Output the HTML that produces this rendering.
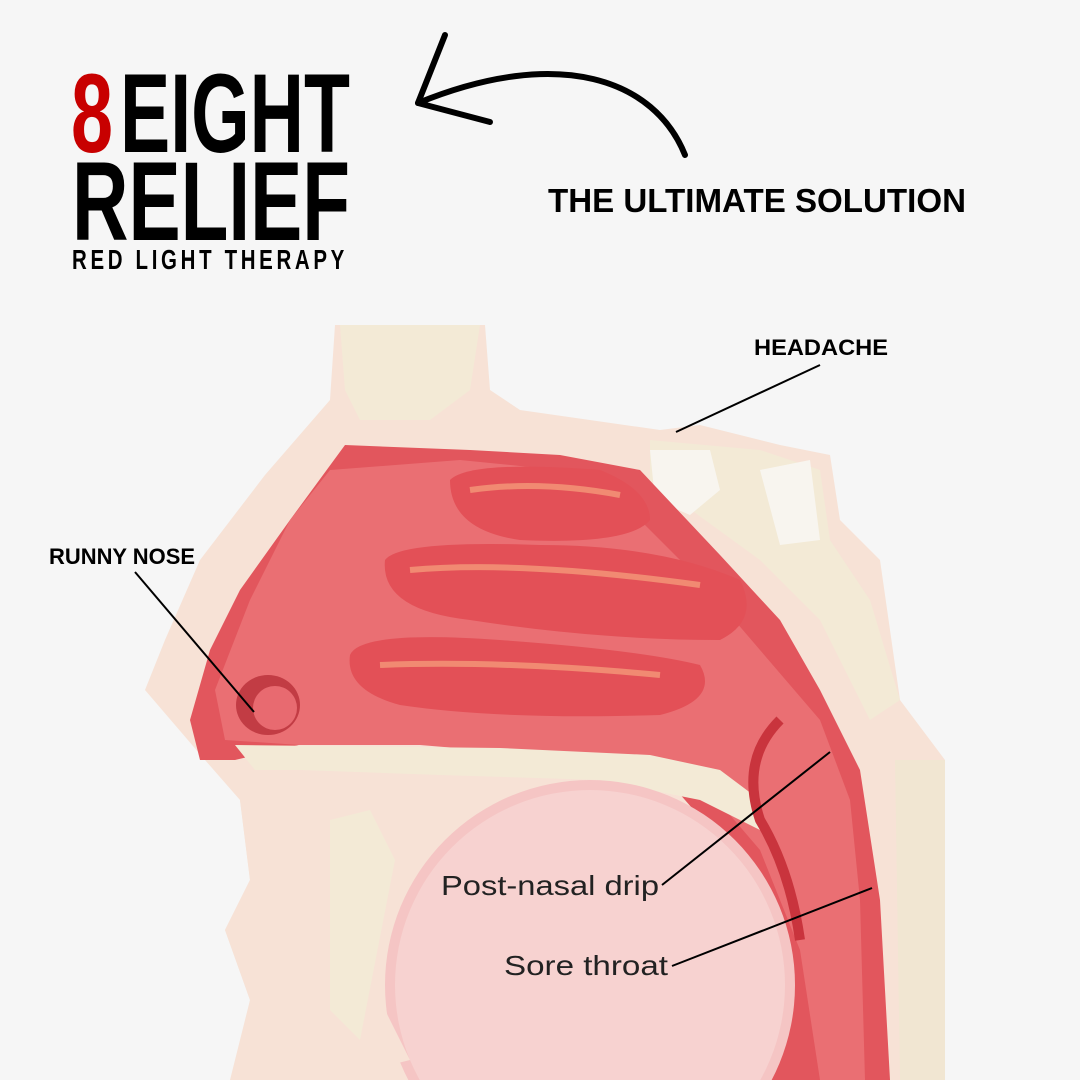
<!DOCTYPE html>
<html><head><meta charset="utf-8"><style>
html,body{margin:0;padding:0;background:#f6f6f6;width:1080px;height:1080px;overflow:hidden}
svg{display:block}
text{font-family:"Liberation Sans Narrow","Liberation Sans",sans-serif;font-weight:bold}
</style></head><body>
<svg width="1080" height="1080" viewBox="0 0 1080 1080" xmlns="http://www.w3.org/2000/svg">
<rect width="1080" height="1080" fill="#f6f6f6"/>
<text x="71" y="152" font-size="112" fill="#c80000" textLength="42" lengthAdjust="spacingAndGlyphs">8</text>
<text x="120" y="152" font-size="112" fill="#000" textLength="230" lengthAdjust="spacingAndGlyphs">EIGHT</text>
<text x="72" y="240" font-size="112" fill="#000" textLength="278" lengthAdjust="spacingAndGlyphs">RELIEF</text>
<text x="72" y="269" font-size="28" fill="#000" letter-spacing="5" textLength="276" lengthAdjust="spacingAndGlyphs">RED LIGHT THERAPY</text>
<path d="M685 155 C655 80 560 45 418 103" fill="none" stroke="#000" stroke-width="6" stroke-linecap="round"/>
<path d="M445 35 L418 103 L490 122" fill="none" stroke="#000" stroke-width="6" stroke-linecap="round" stroke-linejoin="round"/>
<text x="548" y="212" font-size="33" fill="#000" textLength="418" lengthAdjust="spacingAndGlyphs" style="font-family:'Liberation Sans',sans-serif">THE ULTIMATE SOLUTION</text>
<g>
<path d="M335 325 L485 325 L490 390 L520 410 L660 430 L700 425 L780 445 L830 455 L840 520 L880 560 L900 700 L945 760 L945 1080 L230 1080 L250 1000 L225 930 L250 880 L240 800 L205 760 L145 690 L165 640 L200 560 L265 475 L330 400 Z" fill="#f7e2d6"/>
<path d="M340 325 L480 325 L470 390 L430 420 L360 420 L345 390 Z" fill="#f3ead6"/>
<path d="M650 440 L760 450 L820 470 L830 540 L870 600 L900 700 L870 720 L820 620 L760 560 L650 480 Z" fill="#f3ead6"/>
<path d="M650 450 L710 450 L720 490 L690 515 L655 500 Z" fill="#f8f5ef"/>
<path d="M760 470 L810 460 L820 540 L780 545 Z" fill="#f8f5ef"/>
<path d="M895 760 L945 760 L945 1080 L900 1080 Z" fill="#f1e6d2"/>
<path d="M345 445 L470 450 L560 455 L640 470 L720 555 L780 620 L820 690 L860 770 L880 900 L890 1080 L770 1080 L760 980 L720 840 L650 760 L500 745 L320 740 L235 760 L200 760 L190 720 L210 650 L240 590 L290 520 Z" fill="#e2565d"/>
<path d="M330 470 L460 460 L560 470 L640 520 L700 580 L760 650 L820 720 L850 800 L860 900 L865 1080 L820 1080 L800 950 L760 850 L700 780 L600 760 L420 745 L300 745 L225 740 L215 690 L250 600 L290 520 Z" fill="#ea6f73"/>
<path d="M450 480 Q470 460 600 470 Q650 490 650 520 Q630 545 520 540 Q450 530 450 480 Z" fill="#e35057"/>
<path d="M385 560 Q400 540 540 545 Q660 545 740 580 Q760 620 720 640 Q600 640 470 620 Q380 610 385 560 Z" fill="#e35057"/>
<path d="M350 655 Q360 630 500 640 Q640 650 700 665 Q720 700 660 715 Q500 720 400 705 Q345 690 350 655 Z" fill="#e35057"/>
<path d="M470 490 Q540 480 620 495" stroke="#f7a27e" stroke-width="6" fill="none" opacity=".7"/>
<path d="M410 570 Q520 560 700 585" stroke="#f7a27e" stroke-width="6" fill="none" opacity=".7"/>
<path d="M380 665 Q500 660 660 675" stroke="#f7a27e" stroke-width="6" fill="none" opacity=".7"/>
<path d="M235 745 L500 748 L650 755 L720 770 L760 800 L760 830 L700 800 L600 780 L440 775 L300 770 L255 770 Z" fill="#f3ead6"/>
<circle cx="590" cy="985" r="205" fill="#f5c5c4"/>
<circle cx="590" cy="985" r="195" fill="#f7d2d0"/>
<path d="M240 800 L330 800 L370 860 L360 960 L410 1060 L330 1080 L240 1080 L250 1000 L225 930 L250 880 Z" fill="#f7e2d6"/>
<path d="M330 820 L370 810 L395 860 L360 1040 L330 1010 Z" fill="#f3ead6"/>
<path d="M780 720 Q740 760 760 820 Q790 870 800 940" stroke="#c9343d" stroke-width="10" fill="none"/>
<ellipse cx="268" cy="705" rx="32" ry="30" fill="#c23c44"/>
<ellipse cx="275" cy="708" rx="22" ry="22" fill="#e86a70"/>
</g>
<g>
<text x="754" y="355" font-size="22" fill="#000" textLength="134" lengthAdjust="spacingAndGlyphs" style="font-family:'Liberation Sans',sans-serif">HEADACHE</text>
<line x1="820" y1="365" x2="676" y2="432" stroke="#000" stroke-width="2"/>
<text x="49" y="564" font-size="22" fill="#000" textLength="146" lengthAdjust="spacingAndGlyphs" style="font-family:'Liberation Sans',sans-serif">RUNNY NOSE</text>
<line x1="135" y1="572" x2="254" y2="712" stroke="#000" stroke-width="2"/>
<text x="441" y="895" font-size="28" fill="#222" textLength="218" lengthAdjust="spacingAndGlyphs" style="font-family:'Liberation Sans',sans-serif;font-weight:normal">Post-nasal drip</text>
<line x1="662" y1="885" x2="830" y2="752" stroke="#000" stroke-width="2"/>
<text x="504" y="975" font-size="28" fill="#222" textLength="164" lengthAdjust="spacingAndGlyphs" style="font-family:'Liberation Sans',sans-serif;font-weight:normal">Sore throat</text>
<line x1="672" y1="966" x2="872" y2="888" stroke="#000" stroke-width="2"/>
</g>
</svg>
</body></html>
